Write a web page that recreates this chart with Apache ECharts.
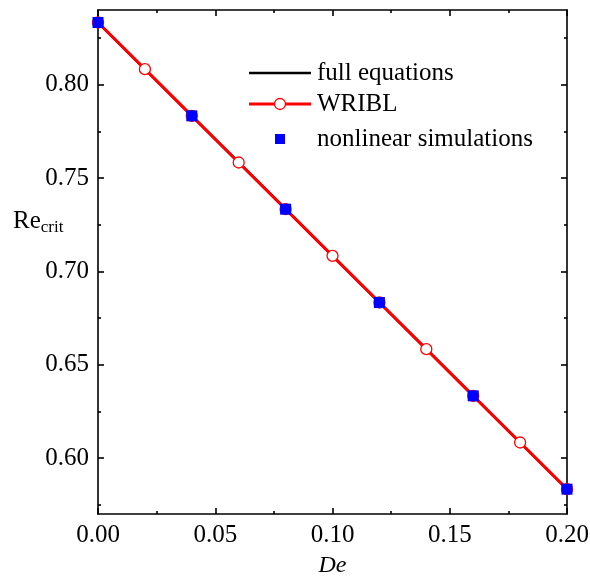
<!DOCTYPE html>
<html><head><meta charset="utf-8">
<script src="https://cdn.jsdelivr.net/npm/echarts@6/dist/echarts.min.js"></script>
<style>html,body{margin:0;padding:0;background:#fff}#c{width:590px;height:577px}</style>
</head><body><div id="c"></div>
<script>
const deValues = [0, 0.02, 0.04, 0.06, 0.08, 0.10, 0.12, 0.14, 0.16, 0.18, 0.20];
const fullEq = [0.8333, 0.8083, 0.7833, 0.7583, 0.7333, 0.7083, 0.6833, 0.6583, 0.6333, 0.6083, 0.5833];
const wribl = [0.8333, 0.8083, 0.7833, 0.7583, 0.7333, 0.7083, 0.6833, 0.6583, 0.6333, 0.6083, 0.5833];
const simDe = [0, 0.04, 0.08, 0.12, 0.16, 0.20];
const simVals = [0.8333, 0.7833, 0.7333, 0.6833, 0.6333, 0.5833];
const yMajor = [0.60, 0.65, 0.70, 0.75, 0.80];
const yMinor = [0.575, 0.625, 0.675, 0.725, 0.775, 0.825];
const legendNames = ['full equations', 'WRIBL', 'nonlinear simulations'];

const FONT = '"Liberation Serif","Times New Roman",serif';
const ax = {lineStyle:{color:'#000',width:1.6}};
const chart = echarts.init(document.getElementById('c'));
function yAx(pos, ticks, len, labels, line){
  return {type:'value', position:pos, min:0.57, max:0.84,
    axisLine:{show:line, lineStyle:{color:'#000',width:1.6}},
    axisTick:{show:true, inside:true, length:len, customValues:ticks, lineStyle:{color:'#000',width:1.6}},
    axisLabel:{show:labels, customValues:ticks, formatter:v=>v.toFixed(2), fontFamily:FONT, fontSize:25, color:'#000', margin:9},
    splitLine:{show:false}};
}
const legX = 249, legY = [73, 104, 139], txtX = 317;
const legendGraphics = [
  {type:'line', shape:{x1:legX,y1:legY[0],x2:legX+62,y2:legY[0]}, style:{stroke:'#000',lineWidth:2.5}},
  {type:'line', shape:{x1:legX,y1:legY[1],x2:legX+62,y2:legY[1]}, style:{stroke:'#ff0000',lineWidth:2.8}},
  {type:'circle', shape:{cx:legX+31,cy:legY[1],r:5.5}, style:{fill:'#fff',stroke:'#ff0000',lineWidth:1.3}},
  {type:'rect', shape:{x:legX+26,y:legY[2]-5,width:10,height:10}, style:{fill:'#0000ff'}}
];
legendNames.forEach((n,i)=>legendGraphics.push({type:'text', x:txtX, y:legY[i], style:{text:n, fontFamily:FONT, fontSize:25, fill:'#000', verticalAlign:'middle'}}));
legendGraphics.push({type:'text', x:13, y:236, style:{
    text:'{a|Re}{b|crit}', verticalAlign:'bottom', rich:{a:{fontFamily:FONT,fontSize:25,fill:'#000'}, b:{fontFamily:FONT,fontSize:17,fill:'#000',padding:[12,0,0,0]}}}});

chart.setOption({
  animation:false,
  grid:{left:98,right:23,top:10,bottom:63, outerBoundsMode:'none', containLabel:false},
  xAxis:[
    {type:'value', position:'bottom', min:0, max:0.2, interval:0.05,
      axisLine:ax, axisTick:{inside:true,length:6,lineStyle:{color:'#000',width:1.6}},
      minorTick:{show:true,splitNumber:2,length:3,lineStyle:{color:'#000',width:1.6}},
      axisLabel:{formatter:v=>v.toFixed(2), fontFamily:FONT, fontSize:25, color:'#000', margin:9},
      splitLine:{show:false},
      name:'De', nameLocation:'middle', nameGap:40, nameTextStyle:{fontFamily:FONT,fontSize:24,fontStyle:'italic',color:'#000'}},
    {type:'value', position:'top', min:0, max:0.2, interval:0.05,
      axisLine:ax, axisTick:{inside:true,length:6,lineStyle:{color:'#000',width:1.6}},
      minorTick:{show:true,splitNumber:2,length:3,lineStyle:{color:'#000',width:1.6}},
      axisLabel:{show:false}, splitLine:{show:false}}
  ],
  yAxis:[
    yAx('left', yMajor, 6, true, true),
    yAx('left', yMinor, 3, false, false),
    yAx('right', yMajor, 6, false, true),
    yAx('right', yMinor, 3, false, false)
  ],
  graphic:legendGraphics,
  series:[
    {name:'full equations', type:'line', data:deValues.map((d,i)=>[d,fullEq[i]]), showSymbol:false, symbol:'none',
      lineStyle:{color:'#000',width:2.5}, itemStyle:{color:'#000'}, z:2},
    {name:'WRIBL', type:'line', data:deValues.map((d,i)=>[d,wribl[i]]), symbol:'circle', symbolSize:11,
      lineStyle:{color:'#ff0000',width:3}, itemStyle:{color:'#fff',borderColor:'#ff0000',borderWidth:1.3}, z:3},
    {name:'nonlinear simulations', type:'scatter', data:simDe.map((d,i)=>[d,simVals[i]]), symbol:'rect', symbolSize:11,
      itemStyle:{color:'#0000ff', opacity:1}, z:4}
  ]
});
</script></body></html>
